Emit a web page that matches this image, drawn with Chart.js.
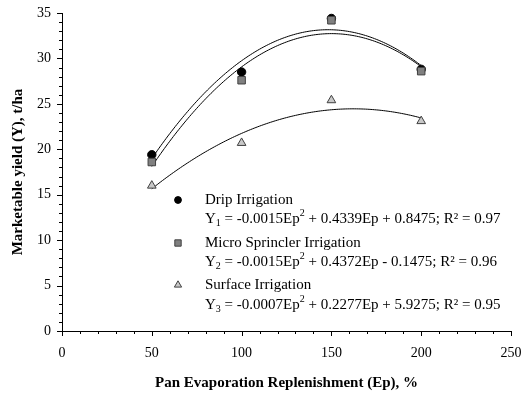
<!DOCTYPE html>
<html>
<head>
<meta charset="utf-8">
<script src="https://cdn.jsdelivr.net/npm/chart.js@4/dist/chart.umd.min.js"></script>
<style>
html,body{margin:0;padding:0;background:#fff;}
#wrap{width:524px;height:393px;position:relative;}
</style>
</head>
<body>
<div id="wrap"><canvas id="c" width="524" height="393"></canvas></div>
<script>
// ---- data ----
const epLevels = [50, 100, 150, 200];
const dripYield = [19.4, 28.5, 34.4, 28.8];
const microYield = [18.6, 27.6, 34.2, 28.6];
const surfaceYield = [16.0, 20.7, 25.4, 23.1];
const seriesNames = ['Drip Irrigation', 'Micro Sprincler Irrigation', 'Surface Irrigation'];
const equationTexts = [
  ['Y', '1', ' = -0.0015Ep', '2', ' + 0.4339Ep + 0.8475; R\u00b2 = 0.97'],
  ['Y', '2', ' = -0.0015Ep', '2', ' + 0.4372Ep - 0.1475; R\u00b2 = 0.96'],
  ['Y', '3', ' = -0.0007Ep', '2', ' + 0.2277Ep + 5.9275; R\u00b2 = 0.95']
];
const xTickValues = [0, 50, 100, 150, 200, 250];
const yTickValues = [0, 5, 10, 15, 20, 25, 30, 35];
const xAxisTitle = 'Pan Evaporation Replenishment (Ep), %';
const yAxisTitle = 'Marketable yield (Y), t/ha';

// quadratic least-squares trendline (like the spreadsheet trendline) from the data
function quadFit(xs, ys) {
  let n = xs.length, s = [0,0,0,0,0], t = [0,0,0];
  for (let i = 0; i < n; i++) {
    const x = xs[i], y = ys[i];
    for (let k = 0; k <= 4; k++) s[k] += Math.pow(x, k);
    for (let k = 0; k <= 2; k++) t[k] += y * Math.pow(x, k);
  }
  const A = [[s[0], s[1], s[2], t[0]], [s[1], s[2], s[3], t[1]], [s[2], s[3], s[4], t[2]]];
  for (let i = 0; i < 3; i++) {
    for (let j = i + 1; j < 3; j++) {
      const f = A[j][i] / A[i][i];
      for (let k = i; k < 4; k++) A[j][k] -= f * A[i][k];
    }
  }
  const c = [0,0,0];
  for (let i = 2; i >= 0; i--) {
    let v = A[i][3];
    for (let k = i + 1; k < 3; k++) v -= A[i][k] * c[k];
    c[i] = v / A[i][i];
  }
  return c; // c0 + c1 x + c2 x^2
}
function trendPoints(ys) {
  const c = quadFit(epLevels, ys);
  const pts = [];
  const x0 = epLevels[0], x1 = epLevels[epLevels.length - 1];
  for (let x = x0; x <= x1; x += 1) pts.push({x: x, y: c[0] + c[1] * x + c[2] * x * x});
  return pts;
}
const toPts = ys => epLevels.map((x, i) => ({x: x, y: ys[i]}));

const FONT = '"Liberation Serif", "Times New Roman", serif';

const markerStyles = [
  {pointStyle: 'circle', radius: 4.2, backgroundColor: '#000', borderColor: '#000', borderWidth: 1},
  {pointStyle: 'rect', radius: 5.3, backgroundColor: '#808080', borderColor: '#404040', borderWidth: 1},
  {pointStyle: 'triangle', radius: 5, backgroundColor: '#c8c8c8', borderColor: '#404040', borderWidth: 1}
];
const drawOrder = [1, 0, 2];
const seriesData = [dripYield, microYield, surfaceYield];

const datasets = [];
seriesData.forEach((ys, i) => {
  const m = markerStyles[i];
  datasets.push({
    label: seriesNames[i], data: toPts(ys), showLine: false, order: drawOrder[i],
    pointStyle: m.pointStyle, pointRadius: m.radius, pointBackgroundColor: m.backgroundColor,
    pointBorderColor: m.borderColor, pointBorderWidth: m.borderWidth
  });
});
seriesData.forEach((ys, i) => {
  datasets.push({
    label: seriesNames[i] + ' trend', data: trendPoints(ys), showLine: true, order: 5,
    pointRadius: 0, borderColor: '#000', borderWidth: 1, tension: 0, fill: false
  });
});

const tickMarks = {
  id: 'tickMarks',
  afterDraw(chart) {
    const ctx = chart.ctx, xs = chart.scales.x, ys = chart.scales.y;
    const ca = chart.chartArea;
    ctx.save();
    ctx.strokeStyle = '#000'; ctx.lineWidth = 1;
    ctx.beginPath();
    for (let v = 0; v <= 250; v += 10) {
      const px = Math.round(xs.getPixelForValue(v)) + 0.5;
      const len = (v % 50 === 0) ? 5 : 3;
      ctx.moveTo(px, ca.bottom); ctx.lineTo(px, ca.bottom + len);
    }
    for (let v = 0; v <= 35; v += 1) {
      const py = Math.round(ys.getPixelForValue(v)) + 0.5;
      const len = (v % 5 === 0) ? 5 : 3;
      ctx.moveTo(ca.left, py); ctx.lineTo(ca.left - len, py);
    }
    ctx.stroke();
    ctx.restore();
  }
};

function drawRich(ctx, parts, x, y, size) {
  let cx = x;
  parts.forEach((p, i) => {
    const isSub = i === 1, isSup = i === 3;
    const fs = (isSub || isSup) ? Math.round(size * 0.65) : size;
    ctx.font = fs + 'px ' + FONT;
    const dy = isSub ? size * 0.28 : (isSup ? -size * 0.38 : 0);
    ctx.fillText(p, cx, y + dy);
    cx += ctx.measureText(p).width;
  });
}

const customLegend = {
  id: 'customLegend',
  afterDraw(chart) {
    const ctx = chart.ctx;
    const markerX = 178, textX = 205;
    const nameY = [200, 243, 285], eqY = [219, 262, 305];
    const size = 15;
    ctx.save();
    ctx.textBaseline = 'middle';
    ctx.textAlign = 'left';
    for (let i = 0; i < 3; i++) {
      const m = markerStyles[i];
      ctx.fillStyle = m.backgroundColor; ctx.strokeStyle = m.borderColor; ctx.lineWidth = 1;
      Chart.helpers.drawPoint(ctx, {pointStyle: m.pointStyle, radius: m.radius - 0.8, rotation: 0, borderWidth: 1}, markerX, nameY[i]);
      ctx.fillStyle = '#000';
      ctx.font = size + 'px ' + FONT;
      ctx.fillText(seriesNames[i], textX, nameY[i]);
      drawRich(ctx, equationTexts[i], textX, eqY[i], size);
    }
    ctx.restore();
  }
};

new Chart(document.getElementById('c'), {
  type: 'scatter',
  data: {datasets: datasets},
  plugins: [tickMarks, customLegend],
  options: {
    responsive: false,
    animation: false,
    devicePixelRatio: 1,
    layout: {padding: 0},
    plugins: {legend: {display: false}, tooltip: {enabled: false}},
    scales: {
      x: {
        type: 'linear', min: 0, max: 250,
        afterBuildTicks: s => { s.ticks = xTickValues.map(v => ({value: v})); },
        afterFit: s => { s.height = 62; s.paddingLeft = 0; s.paddingRight = 13; },
        grid: {display: false, drawTicks: false},
        border: {display: true, color: '#000', width: 1},
        ticks: {color: '#000', font: {family: FONT, size: 14}, padding: 14, maxRotation: 0},
        title: {display: true, text: xAxisTitle, color: '#000', font: {family: FONT, size: 15, weight: 'bold'}, padding: {top: 0, bottom: 1}}
      },
      y: {
        type: 'linear', min: 0, max: 35,
        afterBuildTicks: s => { s.ticks = yTickValues.map(v => ({value: v})); },
        afterFit: s => { s.width = 62; s.paddingTop = 13; s.paddingBottom = 0; },
        grid: {display: false, drawTicks: false},
        border: {display: true, color: '#000', width: 1},
        ticks: {color: '#000', font: {family: FONT, size: 14}, padding: 11},
        title: {display: true, text: yAxisTitle, color: '#000', font: {family: FONT, size: 15, weight: 'bold'}, padding: {top: 9, bottom: 0}}
      }
    }
  }
});
</script>
</body>
</html>
